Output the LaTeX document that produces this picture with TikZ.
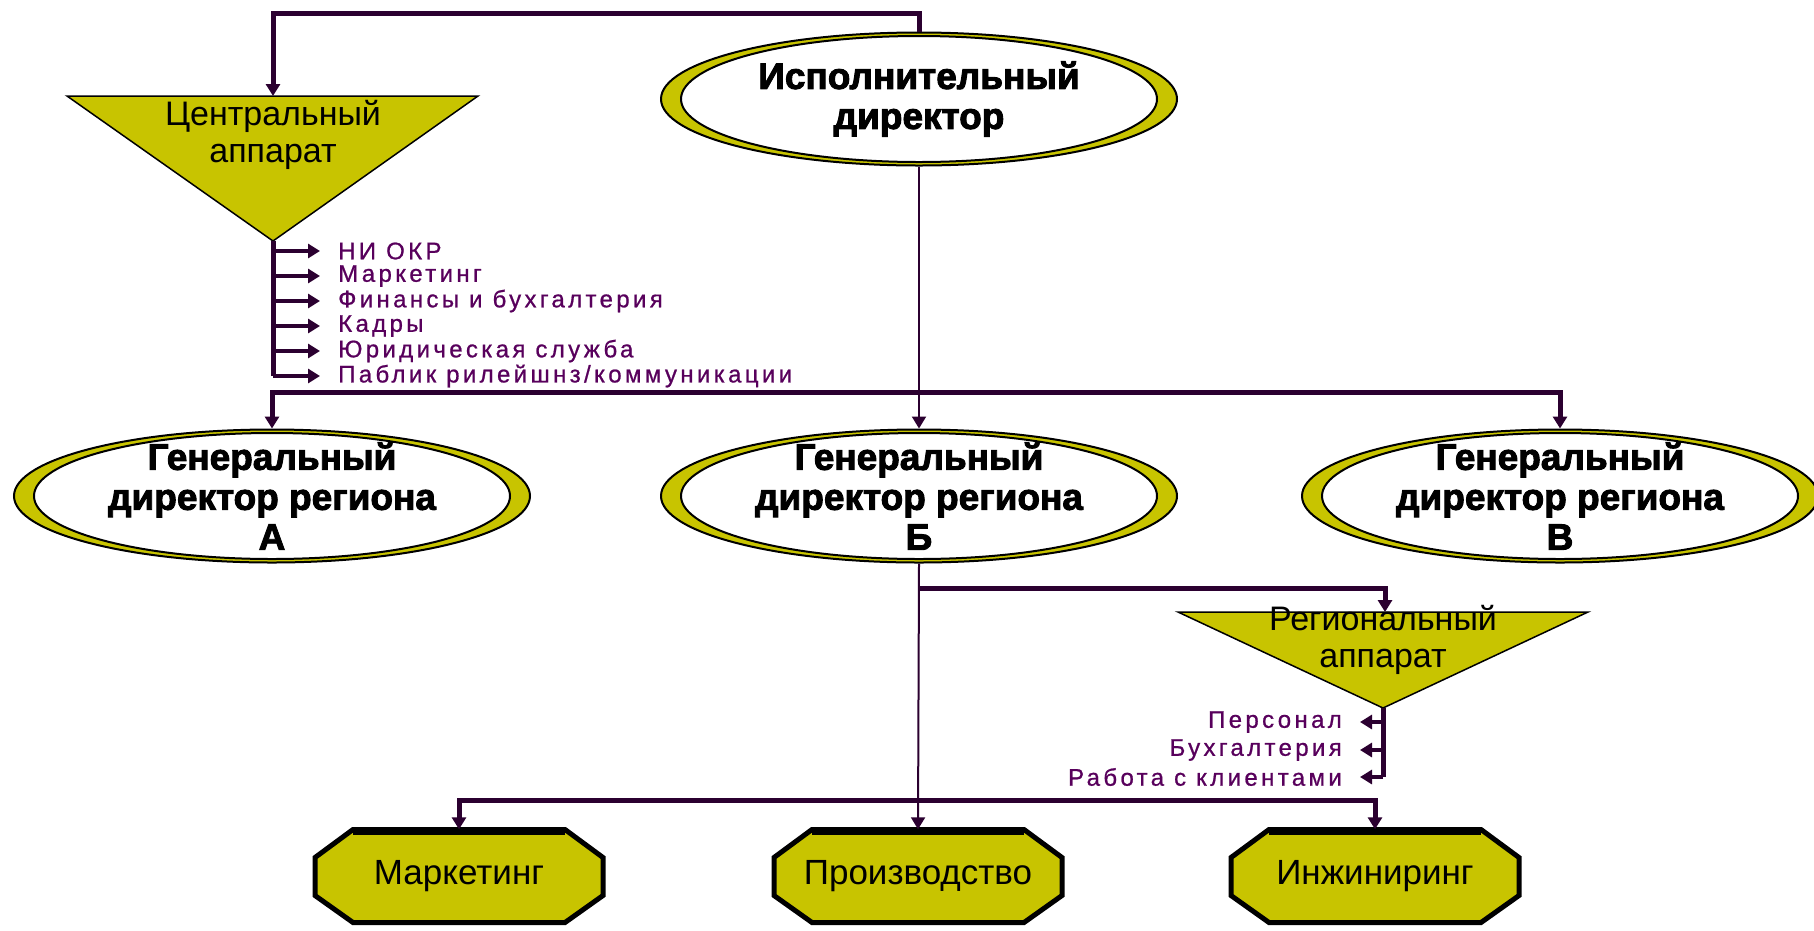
\documentclass[tikz,border=0pt]{standalone}
\usepackage{fontspec}
\setmainfont{Liberation Sans}
\newfontface\heavyfont{Liberation Sans Bold}[FakeBold=2.5]
\newfontface\listfont{Liberation Sans}[LetterSpace=14,FakeBold=0.8]
\usetikzlibrary{arrows.meta,shapes.geometric}
\definecolor{yel}{HTML}{C8C400}
\definecolor{linec}{HTML}{2B0030}
\definecolor{listc}{HTML}{58005C}
\newcommand{\octbox}[4]{%
  \path[fill=yel, draw=black, line width=5pt, line join=miter]
    ({#2-106},{#3-46.5}) -- ({#2+106},{#3-46.5}) -- ({#2+144},{#3-18.5}) --
    ({#2+144},{#3+19.5}) -- ({#2+106},{#3+46.5}) -- ({#2-106},{#3+46.5}) --
    ({#2-144},{#3+19.5}) -- ({#2-144},{#3-18.5}) -- cycle;
  \draw[black, line width=6pt] ({#2-106},{#3-44}) -- ({#2+106},{#3-44});
  \node[boxtext] (#1) at (#2,#3) {#4};}
\begin{document}
\begin{tikzpicture}[x=1pt,y=-1pt,
  busline/.style={draw=linec, line width=5pt},
  thinline/.style={draw=linec, line width=2pt},
  stubline/.style={draw=linec, line width=3.5pt},
  arrowtip/.style={-{Triangle[width=14pt,length=12pt]}},
  smalltip/.style={-{Triangle[width=14pt,length=12pt]}},
  outerell/.style={ellipse, draw=black, line width=2pt, fill=yel, minimum width=516pt, minimum height=133pt, inner sep=0pt},
  innerell/.style={ellipse, draw=black, line width=2pt, fill=white, minimum width=476pt, minimum height=126pt, inner sep=0pt},
  elltext/.style={font=\heavyfont\fontsize{37}{40}\selectfont, align=center, text=black},
  tritext/.style={font=\fontsize{34}{37}\selectfont, align=center, text=black},
  boxtext/.style={font=\fontsize{35}{40}\selectfont, minimum width=288pt, minimum height=93pt, inner sep=0pt},
  listitem/.style={font=\listfont\fontsize{24}{25}\selectfont, text=listc, inner xsep=18pt, inner ysep=0pt},
]
\fill[white] (0,0) rectangle (1814,930);
\useasboundingbox (0,0) rectangle (1814,930);

% executive director
\node[outerell] (exec) at (919,99) {};
\node[innerell] (execIn) at (exec.center) {};
\node[elltext] (execT) at (exec.center) {Исполнительный\\директор};

% regional directors
\node[outerell] (regA) at (272,496) {};
\node[innerell] (regAIn) at (regA.center) {};
\node[elltext] (regAT) at (regA.center) {Генеральный\\директор региона\\А};

\node[outerell] (regB) at (919,496) {};
\node[innerell] (regBIn) at (regB.center) {};
\node[elltext] (regBT) at (regB.center) {Генеральный\\директор региона\\Б};

\node[outerell] (regC) at (1560,496) {};
\node[innerell] (regCIn) at (regC.center) {};
\node[elltext] (regCT) at (regC.center) {Генеральный\\директор региона\\В};

% central apparatus triangle
\coordinate (cenL) at (67,96);
\coordinate (cenR) at (478,96);
\coordinate (cenApex) at (273,241);
\coordinate (cenTop) at (273,96);
\draw[fill=yel, draw=black, line width=1.5pt] (cenL) -- (cenR) -- (cenApex) -- cycle;
\node[tritext] (cenT) at (273,135) {Центральный\\аппарат};

% regional apparatus triangle
\coordinate (rgL) at (1178,612);
\coordinate (rgR) at (1588,612);
\coordinate (rgApex) at (1383,708);
\coordinate (rgTop) at (1385,612);
\draw[fill=yel, draw=black, line width=1.5pt] (rgL) -- (rgR) -- (rgApex) -- cycle;
\node[tritext] (rgT) at (1383,640) {Региональный\\аппарат};

% central list
\node[listitem, anchor=west] (c1) at (320,251) {НИ ОКР};
\node[listitem, anchor=west] (c2) at (320,276) {Маркетинг};
\node[listitem, anchor=west] (c3) at (320,301) {Финансы и бухгалтерия};
\node[listitem, anchor=west] (c4) at (320,326) {Кадры};
\node[listitem, anchor=west] (c5) at (320,351) {Юридическая служба};
\node[listitem, anchor=west] (c6) at (320,376) {Паблик рилейшнз/коммуникации};
\draw[busline] (cenApex) -- (cenApex |- c6.west);
\foreach \n in {c1,c2,c3,c4,c5,c6}
  \draw[stubline, smalltip] (cenApex |- \n.west) -- (\n.west);

% regional list
\node[listitem, anchor=east] (r1) at (1360,722) {Персонал};
\node[listitem, anchor=east] (r2) at (1360,750) {Бухгалтерия};
\node[listitem, anchor=east] (r3) at (1360,777) {Работа с клиентами};
\draw[busline] (rgApex) -- (rgApex |- r3.east);
\foreach \n in {r1,r2,r3}
  \draw[stubline, smalltip] (rgApex |- \n.east) -- (\n.east);

% bottom departments
\octbox{mk}{459}{876}{Маркетинг}
\octbox{prod}{918}{876}{Производство}
\octbox{inj}{1375}{876}{Инжиниринг}

% connectors
\draw[busline, arrowtip] (exec.north) -- ++(0,-18) -| (cenTop);
\draw[thinline, arrowtip] (exec.south) -- (regB.north);
\coordinate (bus) at (919,392);
\draw[busline, arrowtip] (bus) -| (regA.north);
\draw[busline, arrowtip] (bus) -| (regC.north);
\coordinate (br) at (919,588);
\draw[busline, arrowtip] (br) -| (rgTop);
\draw[thinline, arrowtip] (regB.south) -- (prod.north);
\coordinate (bb) at (919,800);
\draw[busline, arrowtip] (bb) -| (mk.north);
\draw[busline, arrowtip] (bb) -| (inj.north);
\end{tikzpicture}
\end{document}
